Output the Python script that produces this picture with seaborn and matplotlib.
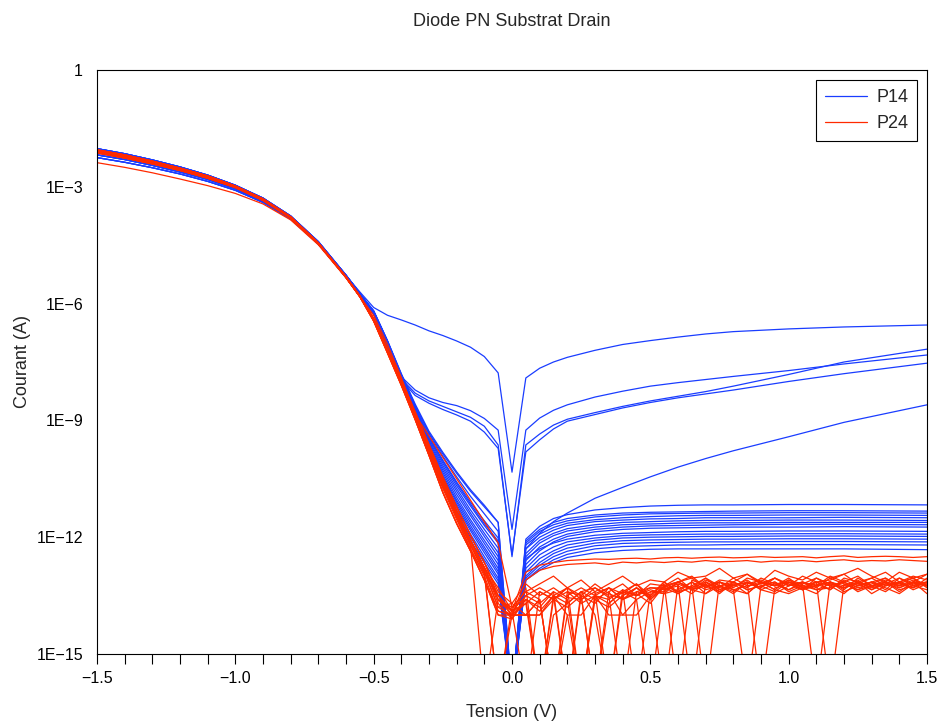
import numpy as np
import pandas as pd
import matplotlib
matplotlib.use("Agg")
import matplotlib.pyplot as plt
from matplotlib.lines import Line2D
from matplotlib.ticker import MultipleLocator, NullLocator, FixedLocator
import seaborn as sns

# ---------------- data (log10 of current in A) ----------------
# voltage grid for the P14 curves
XB = [-1.5, -1.4, -1.3, -1.2, -1.1, -1.0, -0.9, -0.8, -0.7, -0.6, -0.55,
      -0.5, -0.45, -0.4, -0.35, -0.3, -0.25, -0.2, -0.15, -0.1, -0.05, 0.0,
      0.05, 0.1, 0.15, 0.2, 0.3, 0.4, 0.5, 0.6, 0.7, 0.8, 1.0, 1.2, 1.5]

# voltage grid for the P24 curves
XR = [-1.5, -1.4, -1.3, -1.2, -1.1, -1.0, -0.9, -0.8, -0.7, -0.6, -0.55,
      -0.5, -0.45, -0.4, -0.35, -0.3, -0.25, -0.2, -0.15, -0.1,
      -0.05, 0.0, 0.05, 0.1, 0.15, 0.2, 0.25, 0.3, 0.35, 0.4, 0.45, 0.5,
      0.55, 0.6, 0.65, 0.7, 0.75, 0.8, 0.85, 0.9, 0.95, 1.0, 1.05, 1.1,
      1.15, 1.2, 1.25, 1.3, 1.35, 1.4, 1.45, 1.5]

# ---- P14 (blue) ----
P14_O1 = [-2.07,-2.20,-2.36,-2.54,-2.74,-2.99,-3.32,-3.77,-4.43,-5.28,-5.70,
          -6.10,-6.30,-6.42,-6.55,-6.70,-6.82,-6.96,-7.12,-7.36,-7.78,-10.33,
          -7.91,-7.66,-7.50,-7.38,-7.20,-7.05,-6.95,-6.86,-6.78,-6.72,-6.65,-6.60,-6.55]
P14_A = [-2.02,-2.15,-2.31,-2.49,-2.70,-2.96,-3.29,-3.75,-4.41,-5.27,-5.74,
         -6.20,-6.97,-7.88,-8.22,-8.42,-8.54,-8.62,-8.75,-8.95,-9.25,-11.8,
         -9.25,-8.94,-8.74,-8.60,-8.40,-8.25,-8.12,-8.03,-7.95,-7.87,-7.72,-7.55,-7.32]
P14_B = [-2.12,-2.25,-2.40,-2.57,-2.77,-3.01,-3.34,-3.79,-4.44,-5.29,-5.76,
         -6.21,-6.98,-7.93,-8.30,-8.50,-8.64,-8.78,-8.92,-9.15,-9.63,-12.5,
         -9.63,-9.35,-9.12,-8.97,-8.80,-8.64,-8.50,-8.38,-8.26,-8.12,-7.82,-7.50,-7.17]
P14_C = [-2.18,-2.30,-2.45,-2.62,-2.81,-3.05,-3.37,-3.81,-4.46,-5.30,-5.77,
         -6.21,-6.99,-7.96,-8.36,-8.56,-8.72,-8.86,-9.02,-9.30,-9.72,-12.45,
         -9.81,-9.50,-9.22,-9.02,-8.85,-8.68,-8.54,-8.42,-8.32,-8.22,-8.00,-7.80,-7.53]
P14_D = [-2.07,-2.20,-2.36,-2.54,-2.74,-2.99,-3.32,-3.77,-4.43,-5.28,-5.75,
         -6.19,-6.96,-7.82,-8.62,-9.32,-9.86,-10.36,-10.82,-11.22,-11.62,-16,
         -12.30,-11.90,-11.60,-11.38,-11.00,-10.72,-10.45,-10.20,-9.98,-9.78,-9.42,-9.05,-8.60]
P14_M01 = [-2.02,-2.15,-2.31,-2.49,-2.70,-2.96,-3.29,-3.75,-4.41,-5.27,-5.74,
           -6.18,-6.95,-7.80,-8.58,-9.28,-9.82,-10.32,-10.78,-11.18,-11.62,-16,
           -12.05,-11.72,-11.52,-11.42,-11.30,-11.24,-11.20,-11.18,-11.17,-11.17,-11.16,-11.16,-11.17]
P14_M02 = [-2.25,-2.37,-2.51,-2.67,-2.86,-3.09,-3.40,-3.83,-4.47,-5.31,-5.78,
           -6.20,-6.97,-7.83,-8.62,-9.35,-9.92,-10.45,-10.95,-11.40,-11.85,-16,
           -12.10,-11.80,-11.62,-11.52,-11.43,-11.38,-11.36,-11.35,-11.34,-11.33,-11.32,-11.32,-11.33]
P14_M03 = [-2.07,-2.20,-2.36,-2.54,-2.74,-2.99,-3.32,-3.77,-4.43,-5.28,-5.75,
           -6.21,-6.99,-7.85,-8.66,-9.42,-10.02,-10.58,-11.10,-11.58,-12.02,-16,
           -12.20,-11.92,-11.75,-11.64,-11.55,-11.50,-11.47,-11.45,-11.44,-11.44,-11.43,-11.43,-11.44]
P14_M04 = [-2.12,-2.25,-2.40,-2.57,-2.77,-3.01,-3.34,-3.79,-4.44,-5.29,-5.76,
           -6.22,-7.00,-7.87,-8.70,-9.48,-10.10,-10.68,-11.20,-11.70,-12.15,-16,
           -12.30,-12.00,-11.82,-11.70,-11.60,-11.56,-11.53,-11.52,-11.50,-11.50,-11.50,-11.49,-11.50]
P14_M05 = [-2.18,-2.30,-2.45,-2.62,-2.81,-3.05,-3.37,-3.81,-4.46,-5.30,-5.77,
           -6.22,-7.01,-7.88,-8.72,-9.52,-10.16,-10.75,-11.30,-11.80,-12.28,-16,
           -12.42,-12.08,-11.90,-11.78,-11.68,-11.62,-11.60,-11.58,-11.57,-11.57,-11.56,-11.56,-11.57]
P14_M06 = [-2.02,-2.15,-2.31,-2.49,-2.70,-2.96,-3.29,-3.75,-4.41,-5.27,-5.74,
           -6.23,-7.02,-7.90,-8.75,-9.56,-10.22,-10.82,-11.38,-11.90,-12.40,-16,
           -12.50,-12.15,-11.96,-11.84,-11.74,-11.68,-11.66,-11.64,-11.63,-11.63,-11.62,-11.62,-11.62]
P14_M07 = [-2.25,-2.37,-2.51,-2.67,-2.86,-3.09,-3.40,-3.83,-4.47,-5.31,-5.78,
           -6.23,-7.03,-7.91,-8.77,-9.60,-10.28,-10.90,-11.45,-11.98,-12.50,-16,
           -12.60,-12.25,-12.05,-11.92,-11.80,-11.74,-11.71,-11.70,-11.69,-11.68,-11.67,-11.67,-11.68]
P14_M08 = [-2.07,-2.20,-2.36,-2.54,-2.74,-2.99,-3.32,-3.77,-4.43,-5.28,-5.75,
           -6.24,-7.04,-7.92,-8.80,-9.64,-10.34,-10.98,-11.55,-12.08,-12.60,-16,
           -12.70,-12.35,-12.12,-11.98,-11.86,-11.80,-11.77,-11.76,-11.75,-11.74,-11.74,-11.73,-11.74]
P14_M09 = [-2.12,-2.25,-2.40,-2.57,-2.77,-3.01,-3.34,-3.79,-4.44,-5.29,-5.76,
           -6.24,-7.05,-7.94,-8.83,-9.68,-10.40,-11.05,-11.62,-12.16,-12.70,-16,
           -12.55,-12.30,-12.15,-12.05,-11.95,-11.90,-11.88,-11.86,-11.85,-11.85,-11.84,-11.84,-11.85]
P14_M10 = [-2.18,-2.30,-2.45,-2.62,-2.81,-3.05,-3.37,-3.81,-4.46,-5.30,-5.77,
           -6.25,-7.06,-7.95,-8.85,-9.72,-10.45,-11.10,-11.70,-12.25,-12.80,-16,
           -12.80,-12.45,-12.25,-12.12,-12.02,-11.96,-11.94,-11.93,-11.92,-11.92,-11.91,-11.91,-11.92]
P14_M11 = [-2.02,-2.15,-2.31,-2.49,-2.70,-2.96,-3.29,-3.75,-4.41,-5.27,-5.74,
           -6.25,-7.07,-7.96,-8.87,-9.75,-10.50,-11.16,-11.77,-12.32,-12.88,-16,
           -12.90,-12.55,-12.35,-12.20,-12.08,-12.02,-12.00,-11.99,-11.98,-11.98,-11.97,-11.97,-11.98]
P14_M12 = [-2.25,-2.37,-2.51,-2.67,-2.86,-3.09,-3.40,-3.83,-4.47,-5.31,-5.78,
           -6.26,-7.08,-7.97,-8.90,-9.78,-10.55,-11.22,-11.83,-12.40,-12.95,-16,
           -13.00,-12.65,-12.42,-12.28,-12.15,-12.09,-12.07,-12.06,-12.05,-12.05,-12.04,-12.04,-12.05]
P14_M13 = [-2.07,-2.20,-2.36,-2.54,-2.74,-2.99,-3.32,-3.77,-4.43,-5.28,-5.75,
           -6.26,-7.09,-7.98,-8.92,-9.82,-10.60,-11.30,-11.92,-12.50,-13.05,-16,
           -13.05,-12.72,-12.50,-12.36,-12.22,-12.16,-12.14,-12.13,-12.12,-12.12,-12.11,-12.11,-12.12]
P14_M14 = [-2.12,-2.25,-2.40,-2.57,-2.77,-3.01,-3.34,-3.79,-4.44,-5.29,-5.76,
           -6.27,-7.10,-7.99,-8.94,-9.85,-10.65,-11.36,-12.00,-12.58,-13.12,-16,
           -13.10,-12.80,-12.58,-12.44,-12.30,-12.24,-12.22,-12.20,-12.20,-12.19,-12.19,-12.19,-12.20]
P14_M15 = [-2.18,-2.30,-2.45,-2.62,-2.81,-3.05,-3.37,-3.81,-4.46,-5.30,-5.77,
           -6.27,-7.10,-8.00,-8.96,-9.88,-10.70,-11.42,-12.08,-12.66,-13.20,-16,
           -13.10,-12.85,-12.65,-12.52,-12.40,-12.34,-12.31,-12.30,-12.30,-12.30,-12.30,-12.30,-12.32]
P14_M16 = [-2.02,-2.15,-2.31,-2.49,-2.70,-2.96,-3.29,-3.75,-4.41,-5.27,-5.74,
           -6.22,-7.00,-7.86,-8.68,-9.45,-10.05,-10.62,-11.15,-11.65,-12.10,-16,
           -12.15,-11.85,-11.68,-11.58,-11.48,-11.43,-11.40,-11.39,-11.38,-11.38,-11.37,-11.37,-11.38]

P14 = [P14_O1, P14_A, P14_B, P14_C, P14_D, P14_M01, P14_M02, P14_M03, P14_M04,
       P14_M05, P14_M06, P14_M07, P14_M08, P14_M09, P14_M10, P14_M11, P14_M12,
       P14_M13, P14_M14, P14_M15, P14_M16]

# ---- P24 (red) ----
P24_R01 = [-2.09,-2.22,-2.38,-2.55,-2.75,-3.00,-3.33,-3.78,-4.45,-5.32,-5.81,
           -6.40,-7.19,-8.00,-8.84,-9.70,-10.55,-11.33,-12.08,-12.78,
           -13.3,-13.9,-12.9,-12.72,-12.65,-12.6,-12.58,-12.56,-12.57,-12.55,-12.54,-12.56,
           -12.53,-12.52,-12.54,-12.52,-12.51,-12.53,-12.52,-12.5,-12.52,-12.51,-12.5,-12.53,
           -12.5,-12.48,-12.52,-12.5,-12.49,-12.5,-12.52,-12.5]
P24_R02 = [-2.05,-2.18,-2.34,-2.52,-2.72,-2.98,-3.31,-3.77,-4.44,-5.31,-5.80,
           -6.38,-7.15,-7.95,-8.78,-9.62,-10.45,-11.22,-11.95,-12.65,
           -13.5,-14.0,-13.1,-12.85,-12.75,-12.7,-12.68,-12.66,-12.7,-12.64,-12.66,-12.63,
           -12.65,-12.62,-12.64,-12.6,-12.63,-12.62,-12.6,-12.64,-12.61,-12.62,-12.6,-12.63,
           -12.6,-12.58,-12.62,-12.6,-12.61,-12.58,-12.6,-12.62]
P24_R03 = [-2.13,-2.26,-2.41,-2.58,-2.78,-3.02,-3.35,-3.80,-4.46,-5.33,-5.82,
           -6.30,-7.05,-7.90,-8.85,-9.40,-9.95,-10.50,-11.05,-11.60,
           -12.15,-13.8,-13.4,-13.2,-13.0,-13.3,-13.1,-13.4,-13.2,-13.0,-13.25,-13.1,
           -13.15,-12.9,-13.05,-13.0,-12.8,-13.05,-12.95,-13.15,-12.85,-13.0,-13.1,-12.9,
           -13.05,-12.95,-12.8,-13.0,-13.15,-12.9,-13.05,-12.95]
P24_R04 = [-2.05,-2.18,-2.34,-2.52,-2.72,-2.98,-3.31,-3.77,-4.44,-5.31,-5.80,
           -6.40,-7.19,-8.00,-8.84,-9.70,-10.55,-11.33,-12.08,-12.78,
           -13.6,-14.0,-13.7,-16,-13.5,-13.3,-13.6,-13.4,-16,-13.35,-13.5,-13.2,
           -13.25,-13.15,-13.0,-13.3,-13.1,-13.15,-12.95,-13.2,-13.05,-13.25,-13.0,-13.15,
           -13.1,-12.95,-13.2,-13.05,-12.9,-13.15,-13.0,-13.1]
P24_R05 = [-2.09,-2.22,-2.38,-2.55,-2.75,-3.00,-3.33,-3.78,-4.45,-5.32,-5.81,
           -6.42,-7.22,-8.04,-8.90,-9.78,-10.65,-11.45,-12.20,-12.90,
           -13.8,-13.7,-14.0,-13.6,-16,-13.4,-13.5,-13.2,-13.45,-13.6,-13.3,-13.5,
           -13.2,-16,-13.1,-13.25,-13.15,-13.3,-13.05,-13.15,-13.35,-13.1,-13.2,-13.05,
           -13.25,-13.15,-13.0,-13.25,-13.1,-13.2,-13.05,-13.3]
P24_R06 = [-2.13,-2.26,-2.41,-2.58,-2.78,-3.02,-3.35,-3.80,-4.46,-5.33,-5.82,
           -6.44,-7.25,-8.08,-8.95,-9.85,-10.75,-11.55,-12.30,-13.00,
           -13.9,-14.0,-14.0,-14.0,-13.5,-14.0,-16,-13.6,-13.4,-14.0,-14.0,-13.5,
           -13.15,-13.45,-13.25,-13.05,-13.35,-13.2,-13.2,-13.1,-13.25,-13.15,-13.35,-13.05,
           -13.2,-13.3,-13.15,-13.05,-13.25,-13.15,-13.3,-13.05]
P24_R07 = [-2.07,-2.20,-2.36,-2.54,-2.74,-2.99,-3.32,-3.78,-4.45,-5.32,-5.81,
           -6.40,-7.19,-8.00,-8.84,-9.70,-10.55,-11.33,-12.08,-12.78,
           -13.7,-14.1,-13.5,-13.7,-13.4,-16,-13.5,-13.7,-13.3,-13.45,-13.2,-13.6,
           -13.25,-13.15,-13.35,-13.2,-13.45,-13.15,-13.3,-13.05,-13.2,-13.35,-13.15,-13.25,
           -13.0,-13.15,-13.3,-13.2,-13.05,-13.25,-13.15,-12.95]
P24_R08 = [-2.11,-2.24,-2.40,-2.57,-2.77,-3.01,-3.34,-3.79,-4.46,-5.33,-5.82,
           -6.42,-7.22,-8.04,-8.90,-9.78,-10.65,-11.45,-12.20,-12.90,
           -13.5,-13.9,-16,-13.4,-13.6,-13.3,-13.5,-16,-13.4,-13.2,-13.5,-13.35,
           -13.45,-13.15,-13.05,-13.3,-13.15,-13.35,-13.45,-13.15,-13.25,-13.05,-13.3,-13.2,
           -13.35,-13.05,-13.15,-13.25,-13.4,-13.15,-13.05,-13.25]
P24_R09 = [-2.38,-2.50,-2.64,-2.80,-2.97,-3.17,-3.44,-3.85,-4.49,-5.34,-5.83,
           -6.45,-7.27,-8.10,-8.98,-9.90,-10.85,-11.65,-12.35,-13.10,
           -13.9,-14.0,-13.6,-16,-14.0,-13.7,-13.4,-14.0,-16,-13.5,-13.3,-13.55,
           -13.25,-13.05,-13.35,-13.45,-13.15,-13.25,-13.1,-13.35,-13.2,-13.15,-13.3,-13.45,
           -13.15,-13.25,-13.1,-13.35,-13.2,-13.3,-13.15,-13.45]
P24_R10 = [-2.05,-2.18,-2.34,-2.52,-2.72,-2.98,-3.31,-3.77,-4.44,-5.31,-5.80,
           -6.42,-7.22,-8.04,-8.90,-9.78,-10.65,-11.45,-12.20,-16,
           -13.6,-13.8,-13.4,-13.6,-16,-13.5,-13.3,-13.5,-13.6,-13.35,-16,-13.4,
           -13.4,-13.15,-13.3,-13.05,-13.25,-13.15,-13.35,-13.25,-13.15,-13.4,-13.25,-13.15,
           -13.35,-13.1,-13.25,-13.15,-13.35,-13.05,-13.2,-13.15]
P24_R11 = [-2.09,-2.22,-2.38,-2.55,-2.75,-3.00,-3.33,-3.78,-4.45,-5.32,-5.81,
           -6.45,-7.27,-8.10,-8.98,-9.90,-10.85,-11.65,-12.35,-13.10,
           -14.0,-14.0,-14.0,-14.0,-13.6,-13.8,-13.5,-16,-13.7,-13.4,-13.6,-16,
           -13.35,-13.25,-13.45,-13.15,-13.4,-13.25,-13.15,-13.35,-13.45,-13.25,-13.15,-13.35,
           -13.3,-13.15,-13.4,-13.25,-13.15,-13.35,-13.25,-13.15]
P24_R12 = [-2.13,-2.26,-2.41,-2.58,-2.78,-3.02,-3.35,-3.80,-4.46,-5.33,-5.82,
           -6.38,-7.15,-7.95,-8.78,-9.62,-10.45,-11.22,-11.95,-12.65,
           -13.4,-13.7,-13.2,-13.5,-13.3,-13.55,-13.6,-13.3,-13.5,-16,-13.4,-13.3,
           -13.35,-13.2,-16,-13.15,-13.3,-13.05,-13.25,-13.2,-13.05,-13.25,-13.15,-13.3,
           -13.05,-13.2,-13.35,-13.15,-13.05,-13.3,-13.15,-13.2]
P24_R13 = [-2.07,-2.20,-2.36,-2.54,-2.74,-2.99,-3.32,-3.78,-4.45,-5.32,-5.81,
           -6.41,-7.21,-8.02,-8.88,-9.75,-10.60,-11.40,-12.15,-12.85,
           -13.8,-14.0,-13.3,-16,-13.6,-13.4,-13.7,-13.5,-13.3,-13.6,-13.45,-13.7,
           -13.25,-13.4,-13.15,-13.35,-13.25,-13.45,-13.15,-16,-13.3,-13.2,-13.35,-13.25,
           -13.15,-13.4,-13.25,-13.15,-13.3,-13.45,-13.2,-13.25]
P24_R14 = [-2.11,-2.24,-2.40,-2.57,-2.77,-3.01,-3.34,-3.79,-4.46,-5.33,-5.82,
           -6.43,-7.24,-8.06,-8.93,-9.82,-10.70,-11.50,-12.30,-12.95,
           -16,-14.0,-14.0,-13.6,-16,-14.0,-14.0,-13.5,-14.0,-14.0,-13.6,-13.4,
           -13.45,-13.35,-13.15,-13.45,-13.25,-13.35,-16,-13.25,-13.4,-13.15,-13.25,-13.35,
           -13.2,-13.3,-13.15,-13.45,-13.25,-13.15,-13.35,-13.2]
P24_R15 = [-2.05,-2.18,-2.34,-2.52,-2.72,-2.98,-3.31,-3.77,-4.44,-5.31,-5.80,
           -6.40,-7.19,-8.00,-8.84,-9.70,-10.55,-11.33,-12.08,-12.78,
           -13.6,-13.9,-13.5,-13.3,-13.5,-16,-13.4,-13.3,-13.55,-13.4,-13.2,-13.5,
           -16,-13.2,-13.35,-13.1,-13.25,-13.4,-13.15,-13.3,-13.05,-13.2,-13.35,-13.15,
           -13.25,-13.45,-13.15,-13.3,-13.2,-13.05,-13.25,-13.35]
P24_R16 = [-2.09,-2.22,-2.38,-2.55,-2.75,-3.00,-3.33,-3.78,-4.45,-5.32,-5.81,
           -6.42,-7.22,-8.04,-8.90,-9.78,-10.65,-11.45,-12.20,-12.90,
           -16,-13.8,-13.6,-13.8,-13.4,-13.6,-16,-13.5,-13.7,-13.4,-13.5,-13.3,
           -13.3,-13.45,-13.25,-16,-13.15,-13.35,-13.25,-13.15,-13.35,-13.45,-13.3,-13.25,
           -13.15,-13.3,-13.2,-13.35,-13.15,-13.25,-13.1,-13.25]
P24_R17 = [-2.13,-2.26,-2.41,-2.58,-2.78,-3.02,-3.35,-3.80,-4.46,-5.33,-5.82,
           -6.40,-7.19,-8.00,-8.84,-9.70,-10.55,-11.33,-12.08,-12.78,
           -13.5,-13.9,-13.7,-13.4,-13.6,-13.3,-16,-13.45,-13.3,-13.6,-13.4,-13.5,
           -13.15,-13.4,-13.3,-13.15,-13.35,-13.2,-13.45,-13.15,-13.25,-13.1,-13.3,-13.15,
           -16,-13.2,-13.35,-13.25,-13.15,-13.4,-13.15,-13.25]
P24_R18 = [-2.11,-2.24,-2.40,-2.57,-2.77,-3.01,-3.34,-3.79,-4.46,-5.33,-5.82,
           -6.45,-7.27,-8.10,-8.98,-9.90,-10.85,-11.65,-12.35,-13.10,
           -14.0,-14.1,-13.6,-13.9,-13.5,-13.7,-13.4,-13.6,-13.8,-13.5,-13.3,-13.6,
           -13.3,-13.15,-13.35,-13.25,-13.4,-13.15,-13.35,-13.25,-13.15,-13.35,-13.2,-16,
           -13.15,-13.35,-13.05,-13.25,-13.2,-13.2,-13.3,-13.15]

P24 = [P24_R01, P24_R02, P24_R03, P24_R04, P24_R05, P24_R06, P24_R07, P24_R08,
       P24_R09, P24_R10, P24_R11, P24_R12, P24_R13, P24_R14, P24_R15, P24_R16,
       P24_R17, P24_R18]

SERIES = ["P14", "P24"]
COLORS = {"P14": "#1a3dff", "P24": "#ff2a00"}

Y_TICKS = [1e0, 1e-3, 1e-6, 1e-9, 1e-12, 1e-15]
Y_LABELS = ["1", "1E\u22123", "1E\u22126", "1E\u22129", "1E\u221212", "1E\u221215"]
X_TICKS = [-1.5, -1.0, -0.5, 0.0, 0.5, 1.0, 1.5]
X_LABELS = ["\u22121.5", "\u22121.0", "\u22120.5", "0.0", "0.5", "1.0", "1.5"]

# ---------------- build long table ----------------
rows = []
for name, xs, curves in (("P14", XB, P14), ("P24", XR, P24)):
    for ci, c in enumerate(curves):
        if len(c) != len(xs):
            raise ValueError(f"{name} curve {ci}: {len(c)} values vs {len(xs)}")
        for x, v in zip(xs, c):
            rows.append({"serie": name, "curve": f"{name}_{ci:02d}",
                         "V": x, "I": 10.0 ** v})
df = pd.DataFrame(rows)

# ---------------- plot ----------------
sns.set_style("white")
plt.rcParams["font.family"] = ["Liberation Sans", "DejaVu Sans"]

fig = plt.figure(figsize=(9.43, 7.23), dpi=100)
ax = fig.add_axes([97 / 943, 1 - 654 / 723, (927 - 97) / 943, (654 - 70) / 723])

sns.lineplot(data=df, x="V", y="I", hue="serie", hue_order=SERIES,
             units="curve", estimator=None, sort=False,
             palette=COLORS, linewidth=0.9, legend=False, ax=ax)

ax.set_yscale("log")
ax.set_xlim(-1.5, 1.5)
ax.set_ylim(1e-15, 1)

ax.yaxis.set_major_locator(FixedLocator(Y_TICKS))
ax.set_yticklabels(Y_LABELS)
ax.yaxis.set_minor_locator(NullLocator())
ax.xaxis.set_major_locator(FixedLocator(X_TICKS))
ax.set_xticklabels(X_LABELS)
ax.xaxis.set_minor_locator(MultipleLocator(0.1))

ax.tick_params(axis="both", which="both", direction="out", length=7,
               width=0.8, color="black", labelsize=11.5, labelcolor="black")
ax.tick_params(axis="x", which="both", bottom=True)
ax.tick_params(axis="x", which="major", pad=5)
ax.tick_params(axis="y", which="major", pad=3)

for s in ax.spines.values():
    s.set_visible(True)
    s.set_color("black")
    s.set_linewidth(0.8)

ax.set_xlabel("Tension (V)", fontsize=13, labelpad=13)
ax.set_ylabel("Courant (A)", fontsize=13, labelpad=4)
ax.set_title("Diode PN Substrat Drain", fontsize=13, pad=32)

handles = [Line2D([0], [0], color=COLORS[s], lw=0.9) for s in SERIES]
leg = ax.legend(handles, SERIES, loc="upper right", fontsize=13,
                frameon=True, fancybox=False, framealpha=1,
                edgecolor="black", handlelength=2.3, handletextpad=0.5,
                labelspacing=0.5, borderpad=0.5, borderaxespad=0.55)
leg.get_frame().set_linewidth(0.8)

fig.savefig("out.png", dpi=100, facecolor="white")
